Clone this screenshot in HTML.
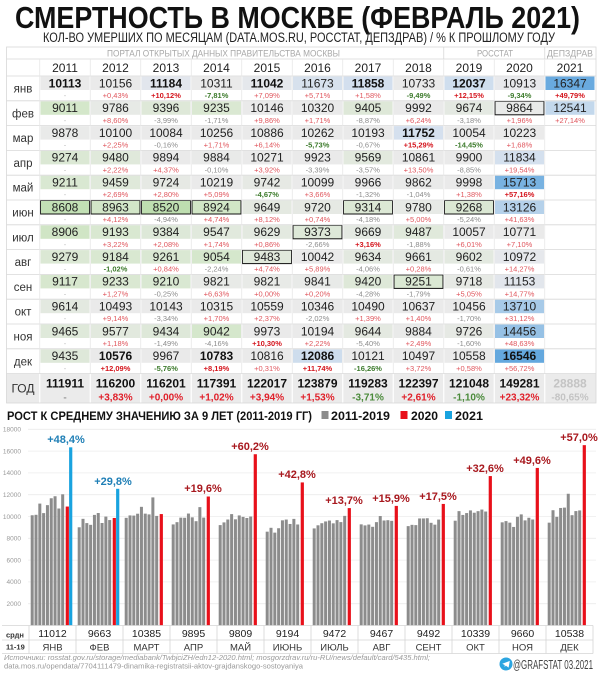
<!DOCTYPE html>
<html><head><meta charset="utf-8">
<style>
html,body{margin:0;padding:0;background:#fff;width:600px;height:674px;overflow:hidden}
svg{display:block}
text{font-family:"Liberation Sans","DejaVu Sans",sans-serif}
.v{font-size:12px;fill:#222;text-anchor:middle}
.b{font-weight:bold;fill:#111}
.p{font-size:7.5px;text-anchor:middle}
.r{fill:#e0575e}
.R{fill:#d4141c;font-weight:bold}
.g{fill:#8c8c8c}
.G{fill:#3d7b2c;font-weight:bold}
.d{fill:#bbb}
.m{font-size:11.5px;fill:#333;text-anchor:middle}
.y{font-size:12px;fill:#222;text-anchor:middle}
.ax{font-size:6.5px;fill:#999;text-anchor:end}
.lb{font-size:11px;font-weight:bold;text-anchor:middle}
.lr{fill:#a8181e}
.lbl{fill:#1f7fb6}
.av{font-size:10.5px;fill:#222;text-anchor:middle}
.mn{font-size:9.5px;fill:#333;text-anchor:middle}
.gp{font-size:10px;font-weight:bold;text-anchor:middle}
</style></head><body>
<svg width="600" height="674" viewBox="0 0 600 674" xmlns="http://www.w3.org/2000/svg">
<rect width="600" height="674" fill="#fff"/>
<text x="15" y="28" font-size="31" font-weight="bold" fill="#111" textLength="565" lengthAdjust="spacingAndGlyphs">СМЕРТНОСТЬ В МОСКВЕ (ФЕВРАЛЬ 2021)</text>
<text x="43" y="42" font-size="13.5" fill="#222" textLength="512" lengthAdjust="spacingAndGlyphs">КОЛ-ВО УМЕРШИХ ПО МЕСЯЦАМ (DATA.MOS.RU, РОССТАТ, ДЕПЗДРАВ) / % К ПРОШЛОМУ ГОДУ</text>

<!-- table header -->
<text x="107" y="56.5" font-size="9" fill="#a8a8a8" textLength="233" lengthAdjust="spacingAndGlyphs">ПОРТАЛ ОТКРЫТЫХ ДАННЫХ ПРАВИТЕЛЬСТВА МОСКВЫ</text>
<text x="477" y="56.5" font-size="9" fill="#a8a8a8" textLength="36" lengthAdjust="spacingAndGlyphs">РОССТАТ</text>
<text x="547" y="56.5" font-size="9" fill="#a8a8a8" textLength="46" lengthAdjust="spacingAndGlyphs">ДЕПЗДРАВ</text>
<g>
<text class="y" x="65" y="72">2011</text><text class="y" x="115.5" y="72">2012</text><text class="y" x="166" y="72">2013</text><text class="y" x="216.5" y="72">2014</text><text class="y" x="267" y="72">2015</text><text class="y" x="317.5" y="72">2016</text><text class="y" x="368" y="72">2017</text><text class="y" x="418.5" y="72">2018</text><text class="y" x="469" y="72">2019</text><text class="y" x="519.5" y="72">2020</text><text class="y" x="570" y="72">2021</text>
</g>

<!-- янв -->
<g transform="translate(0,76)">
<rect x="40.5" y="0.5" width="49" height="13.5" fill="#eaeaea"/><rect x="91" y="0.5" width="49" height="13.5" fill="#eaeaea"/><rect x="141.5" y="0.5" width="49" height="13.5" fill="#e2e6ed"/><rect x="192" y="0.5" width="49" height="13.5" fill="#eaeaea"/><rect x="242.5" y="0.5" width="49" height="13.5" fill="#e5e8ec"/><rect x="293" y="0.5" width="49" height="13.5" fill="#d7e1ed"/><rect x="343.5" y="0.5" width="49" height="13.5" fill="#d3dfee"/><rect x="394" y="0.5" width="49" height="13.5" fill="#eaeaea"/><rect x="444.5" y="0.5" width="49" height="13.5" fill="#cfdeee"/><rect x="495" y="0.5" width="49" height="13.5" fill="#e8e9ec"/><rect x="545.5" y="0.5" width="49" height="13.5" fill="#69aadf"/>
<text class="m" x="23" y="16.5">янв</text>
<text class="v b" x="65" y="11.3">10113</text><text class="v" x="115.5" y="11.3">10156</text><text class="v b" x="166" y="11.3">11184</text><text class="v" x="216.5" y="11.3">10311</text><text class="v b" x="267" y="11.3">11042</text><text class="v" x="317.5" y="11.3">11673</text><text class="v b" x="368" y="11.3">11858</text><text class="v" x="418.5" y="11.3">10733</text><text class="v b" x="469" y="11.3">12037</text><text class="v" x="519.5" y="11.3">10913</text><text class="v" x="570" y="11.3">16347</text>
<text class="p d" x="65" y="22">-</text><text class="p r" x="115.5" y="22">+0,43%</text><text class="p R" x="166" y="22">+10,12%</text><text class="p G" x="216.5" y="22">-7,81%</text><text class="p r" x="267" y="22">+7,09%</text><text class="p r" x="317.5" y="22">+5,71%</text><text class="p r" x="368" y="22">+1,58%</text><text class="p G" x="418.5" y="22">-9,49%</text><text class="p R" x="469" y="22">+12,15%</text><text class="p G" x="519.5" y="22">-9,34%</text><text class="p R" x="570" y="22">+49,79%</text>
</g>

<!-- фев -->
<g transform="translate(0,100.8)">
<rect x="40.5" y="0.5" width="49" height="13.5" fill="#d4e7ca"/><rect x="91" y="0.5" width="49" height="13.5" fill="#e7eae6"/><rect x="141.5" y="0.5" width="49" height="13.5" fill="#dee8d8"/><rect x="192" y="0.5" width="49" height="13.5" fill="#dae8d2"/><rect x="242.5" y="0.5" width="49" height="13.5" fill="#eaeaea"/><rect x="293" y="0.5" width="49" height="13.5" fill="#eaeaea"/><rect x="343.5" y="0.5" width="49" height="13.5" fill="#dee8d8"/><rect x="394" y="0.5" width="49" height="13.5" fill="#eaeaea"/><rect x="444.5" y="0.5" width="49" height="13.5" fill="#e4e9e2"/><rect x="495" y="0.5" width="49" height="13.5" fill="#e9eae9" stroke="#111" stroke-width="1"/><rect x="545.5" y="0.5" width="49" height="13.5" fill="#c3d8ec"/>
<text class="m" x="23" y="16.5">фев</text>
<text class="v" x="65" y="11.3">9011</text><text class="v" x="115.5" y="11.3">9786</text><text class="v" x="166" y="11.3">9396</text><text class="v" x="216.5" y="11.3">9235</text><text class="v" x="267" y="11.3">10146</text><text class="v" x="317.5" y="11.3">10320</text><text class="v" x="368" y="11.3">9405</text><text class="v" x="418.5" y="11.3">9992</text><text class="v" x="469" y="11.3">9674</text><text class="v" x="519.5" y="11.3">9864</text><text class="v" x="570" y="11.3">12541</text>
<text class="p d" x="65" y="22">-</text><text class="p r" x="115.5" y="22">+8,60%</text><text class="p g" x="166" y="22">-3,99%</text><text class="p g" x="216.5" y="22">-1,71%</text><text class="p r" x="267" y="22">+9,86%</text><text class="p r" x="317.5" y="22">+1,71%</text><text class="p g" x="368" y="22">-8,87%</text><text class="p r" x="418.5" y="22">+6,24%</text><text class="p g" x="469" y="22">-3,18%</text><text class="p r" x="519.5" y="22">+1,96%</text><text class="p r" x="570" y="22">+27,14%</text>
</g>

<!-- мар -->
<g transform="translate(0,125.6)">
<rect x="40.5" y="0.5" width="49" height="13.5" fill="#e9eae9"/><rect x="91" y="0.5" width="49" height="13.5" fill="#eaeaea"/><rect x="141.5" y="0.5" width="49" height="13.5" fill="#eaeaea"/><rect x="192" y="0.5" width="49" height="13.5" fill="#eaeaea"/><rect x="242.5" y="0.5" width="49" height="13.5" fill="#eaeaea"/><rect x="293" y="0.5" width="49" height="13.5" fill="#eaeaea"/><rect x="343.5" y="0.5" width="49" height="13.5" fill="#eaeaea"/><rect x="394" y="0.5" width="49" height="13.5" fill="#d5e0ee"/><rect x="444.5" y="0.5" width="49" height="13.5" fill="#eaeaea"/><rect x="495" y="0.5" width="49" height="13.5" fill="#eaeaea"/>
<text class="m" x="23" y="16.5">мар</text>
<text class="v" x="65" y="11.3">9878</text><text class="v" x="115.5" y="11.3">10100</text><text class="v" x="166" y="11.3">10084</text><text class="v" x="216.5" y="11.3">10256</text><text class="v" x="267" y="11.3">10886</text><text class="v" x="317.5" y="11.3">10262</text><text class="v" x="368" y="11.3">10193</text><text class="v b" x="418.5" y="11.3">11752</text><text class="v" x="469" y="11.3">10054</text><text class="v" x="519.5" y="11.3">10223</text>
<text class="p d" x="65" y="22">-</text><text class="p r" x="115.5" y="22">+2,25%</text><text class="p g" x="166" y="22">-0,16%</text><text class="p r" x="216.5" y="22">+1,71%</text><text class="p r" x="267" y="22">+6,14%</text><text class="p G" x="317.5" y="22">-5,73%</text><text class="p g" x="368" y="22">-0,67%</text><text class="p R" x="418.5" y="22">+15,29%</text><text class="p G" x="469" y="22">-14,45%</text><text class="p r" x="519.5" y="22">+1,68%</text>
</g>

<!-- апр -->
<g transform="translate(0,150.4)">
<rect x="40.5" y="0.5" width="49" height="13.5" fill="#dbe8d4"/><rect x="91" y="0.5" width="49" height="13.5" fill="#e0e9db"/><rect x="141.5" y="0.5" width="49" height="13.5" fill="#eaeaea"/><rect x="192" y="0.5" width="49" height="13.5" fill="#e9eae9"/><rect x="242.5" y="0.5" width="49" height="13.5" fill="#eaeaea"/><rect x="293" y="0.5" width="49" height="13.5" fill="#eaeaea"/><rect x="343.5" y="0.5" width="49" height="13.5" fill="#e2e9de"/><rect x="394" y="0.5" width="49" height="13.5" fill="#eaeaea"/><rect x="444.5" y="0.5" width="49" height="13.5" fill="#eaeaea"/><rect x="495" y="0.5" width="49" height="13.5" fill="#d4e0ee"/>
<text class="m" x="23" y="16.5">апр</text>
<text class="v" x="65" y="11.3">9274</text><text class="v" x="115.5" y="11.3">9480</text><text class="v" x="166" y="11.3">9894</text><text class="v" x="216.5" y="11.3">9884</text><text class="v" x="267" y="11.3">10271</text><text class="v" x="317.5" y="11.3">9923</text><text class="v" x="368" y="11.3">9569</text><text class="v" x="418.5" y="11.3">10861</text><text class="v" x="469" y="11.3">9900</text><text class="v" x="519.5" y="11.3">11834</text>
<text class="p d" x="65" y="22">-</text><text class="p r" x="115.5" y="22">+2,22%</text><text class="p r" x="166" y="22">+4,37%</text><text class="p g" x="216.5" y="22">-0,10%</text><text class="p r" x="267" y="22">+3,92%</text><text class="p g" x="317.5" y="22">-3,39%</text><text class="p g" x="368" y="22">-3,57%</text><text class="p r" x="418.5" y="22">+13,50%</text><text class="p g" x="469" y="22">-8,85%</text><text class="p r" x="519.5" y="22">+19,54%</text>
</g>

<!-- май -->
<g transform="translate(0,175.2)">
<rect x="40.5" y="0.5" width="49" height="13.5" fill="#d9e8d2"/><rect x="91" y="0.5" width="49" height="13.5" fill="#dfe9da"/><rect x="141.5" y="0.5" width="49" height="13.5" fill="#e6e9e4"/><rect x="192" y="0.5" width="49" height="13.5" fill="#eaeaea"/><rect x="242.5" y="0.5" width="49" height="13.5" fill="#e6e9e4"/><rect x="293" y="0.5" width="49" height="13.5" fill="#eaeaea"/><rect x="343.5" y="0.5" width="49" height="13.5" fill="#eaeaea"/><rect x="394" y="0.5" width="49" height="13.5" fill="#e9eae9"/><rect x="444.5" y="0.5" width="49" height="13.5" fill="#eaeaea"/><rect x="495" y="0.5" width="49" height="13.5" fill="#78b2e1"/>
<text class="m" x="23" y="16.5">май</text>
<text class="v" x="65" y="11.3">9211</text><text class="v" x="115.5" y="11.3">9459</text><text class="v" x="166" y="11.3">9724</text><text class="v" x="216.5" y="11.3">10219</text><text class="v" x="267" y="11.3">9742</text><text class="v" x="317.5" y="11.3">10099</text><text class="v" x="368" y="11.3">9966</text><text class="v" x="418.5" y="11.3">9862</text><text class="v" x="469" y="11.3">9998</text><text class="v" x="519.5" y="11.3">15713</text>
<text class="p d" x="65" y="22">-</text><text class="p r" x="115.5" y="22">+2,69%</text><text class="p r" x="166" y="22">+2,80%</text><text class="p r" x="216.5" y="22">+5,09%</text><text class="p G" x="267" y="22">-4,67%</text><text class="p r" x="317.5" y="22">+3,66%</text><text class="p g" x="368" y="22">-1,32%</text><text class="p g" x="418.5" y="22">-1,04%</text><text class="p r" x="469" y="22">+1,38%</text><text class="p R" x="519.5" y="22">+57,16%</text>
</g>

<!-- июн -->
<g transform="translate(0,200)">
<rect x="40.5" y="0.5" width="49" height="13.5" fill="#c2e0b5" stroke="#111"/><rect x="91" y="0.5" width="49" height="13.5" fill="#d2e6c8" stroke="#111"/><rect x="141.5" y="0.5" width="49" height="13.5" fill="#bedeb0" stroke="#111"/><rect x="192" y="0.5" width="49" height="13.5" fill="#d1e6c6" stroke="#111"/><rect x="242.5" y="0.5" width="49" height="13.5" fill="#e4e9e1"/><rect x="293" y="0.5" width="49" height="13.5" fill="#e6e9e4"/><rect x="343.5" y="0.5" width="49" height="13.5" fill="#dce8d5" stroke="#111"/><rect x="394" y="0.5" width="49" height="13.5" fill="#e7eae6"/><rect x="444.5" y="0.5" width="49" height="13.5" fill="#dbe8d4" stroke="#111"/><rect x="495" y="0.5" width="49" height="13.5" fill="#b5d1ea"/>
<text class="m" x="23" y="16.5">июн</text>
<text class="v" x="65" y="11.3">8608</text><text class="v" x="115.5" y="11.3">8963</text><text class="v" x="166" y="11.3">8520</text><text class="v" x="216.5" y="11.3">8924</text><text class="v" x="267" y="11.3">9649</text><text class="v" x="317.5" y="11.3">9720</text><text class="v" x="368" y="11.3">9314</text><text class="v" x="418.5" y="11.3">9780</text><text class="v" x="469" y="11.3">9268</text><text class="v" x="519.5" y="11.3">13126</text>
<text class="p d" x="65" y="22">-</text><text class="p r" x="115.5" y="22">+4,12%</text><text class="p g" x="166" y="22">-4,94%</text><text class="p r" x="216.5" y="22">+4,74%</text><text class="p r" x="267" y="22">+8,12%</text><text class="p r" x="317.5" y="22">+0,74%</text><text class="p g" x="368" y="22">-4,18%</text><text class="p r" x="418.5" y="22">+5,00%</text><text class="p g" x="469" y="22">-5,24%</text><text class="p r" x="519.5" y="22">+41,63%</text>
</g>

<!-- июл -->
<g transform="translate(0,224.8)">
<rect x="40.5" y="0.5" width="49" height="13.5" fill="#d0e5c5"/><rect x="91" y="0.5" width="49" height="13.5" fill="#d9e8d1"/><rect x="141.5" y="0.5" width="49" height="13.5" fill="#dde8d8"/><rect x="192" y="0.5" width="49" height="13.5" fill="#e1e9dd"/><rect x="242.5" y="0.5" width="49" height="13.5" fill="#e3e9e0"/><rect x="293" y="0.5" width="49" height="13.5" fill="#dde8d8" stroke="#111"/><rect x="343.5" y="0.5" width="49" height="13.5" fill="#e4e9e2"/><rect x="394" y="0.5" width="49" height="13.5" fill="#e0e9db"/><rect x="444.5" y="0.5" width="49" height="13.5" fill="#eaeaea"/><rect x="495" y="0.5" width="49" height="13.5" fill="#eaeaea"/>
<text class="m" x="23" y="16.5">июл</text>
<text class="v" x="65" y="11.3">8906</text><text class="v" x="115.5" y="11.3">9193</text><text class="v" x="166" y="11.3">9384</text><text class="v" x="216.5" y="11.3">9547</text><text class="v" x="267" y="11.3">9629</text><text class="v" x="317.5" y="11.3">9373</text><text class="v" x="368" y="11.3">9669</text><text class="v" x="418.5" y="11.3">9487</text><text class="v" x="469" y="11.3">10057</text><text class="v" x="519.5" y="11.3">10771</text>
<text class="p d" x="65" y="22">-</text><text class="p r" x="115.5" y="22">+3,22%</text><text class="p r" x="166" y="22">+2,08%</text><text class="p r" x="216.5" y="22">+1,74%</text><text class="p r" x="267" y="22">+0,86%</text><text class="p g" x="317.5" y="22">-2,66%</text><text class="p R" x="368" y="22">+3,16%</text><text class="p g" x="418.5" y="22">-1,88%</text><text class="p r" x="469" y="22">+6,01%</text><text class="p r" x="519.5" y="22">+7,10%</text>
</g>

<!-- авг -->
<g transform="translate(0,249.6)">
<rect x="40.5" y="0.5" width="49" height="13.5" fill="#dbe8d4"/><rect x="91" y="0.5" width="49" height="13.5" fill="#d9e8d1"/><rect x="141.5" y="0.5" width="49" height="13.5" fill="#dae8d3"/><rect x="192" y="0.5" width="49" height="13.5" fill="#d5e7cc"/><rect x="242.5" y="0.5" width="49" height="13.5" fill="#e0e9db" stroke="#111"/><rect x="293" y="0.5" width="49" height="13.5" fill="#eaeaea"/><rect x="343.5" y="0.5" width="49" height="13.5" fill="#e3e9e0"/><rect x="394" y="0.5" width="49" height="13.5" fill="#e4e9e2"/><rect x="444.5" y="0.5" width="49" height="13.5" fill="#e3e9e0"/><rect x="495" y="0.5" width="49" height="13.5" fill="#e6e8ec"/>
<text class="m" x="23" y="16.5">авг</text>
<text class="v" x="65" y="11.3">9279</text><text class="v" x="115.5" y="11.3">9184</text><text class="v" x="166" y="11.3">9261</text><text class="v" x="216.5" y="11.3">9054</text><text class="v" x="267" y="11.3">9483</text><text class="v" x="317.5" y="11.3">10042</text><text class="v" x="368" y="11.3">9634</text><text class="v" x="418.5" y="11.3">9661</text><text class="v" x="469" y="11.3">9602</text><text class="v" x="519.5" y="11.3">10972</text>
<text class="p d" x="65" y="22">-</text><text class="p G" x="115.5" y="22">-1,02%</text><text class="p r" x="166" y="22">+0,84%</text><text class="p g" x="216.5" y="22">-2,24%</text><text class="p r" x="267" y="22">+4,74%</text><text class="p r" x="317.5" y="22">+5,89%</text><text class="p g" x="368" y="22">-4,06%</text><text class="p r" x="418.5" y="22">+0,28%</text><text class="p g" x="469" y="22">-0,61%</text><text class="p r" x="519.5" y="22">+14,27%</text>
</g>

<!-- сен -->
<g transform="translate(0,274.4)">
<rect x="40.5" y="0.5" width="49" height="13.5" fill="#d7e7ce"/><rect x="91" y="0.5" width="49" height="13.5" fill="#dae8d2"/><rect x="141.5" y="0.5" width="49" height="13.5" fill="#d9e8d2"/><rect x="192" y="0.5" width="49" height="13.5" fill="#e8eae7"/><rect x="242.5" y="0.5" width="49" height="13.5" fill="#e8eae7"/><rect x="293" y="0.5" width="49" height="13.5" fill="#e8eae8"/><rect x="343.5" y="0.5" width="49" height="13.5" fill="#dee8d8"/><rect x="394" y="0.5" width="49" height="13.5" fill="#dae8d3" stroke="#111"/><rect x="444.5" y="0.5" width="49" height="13.5" fill="#e6e9e4"/><rect x="495" y="0.5" width="49" height="13.5" fill="#e2e6ec"/>
<text class="m" x="23" y="16.5">сен</text>
<text class="v" x="65" y="11.3">9117</text><text class="v" x="115.5" y="11.3">9233</text><text class="v" x="166" y="11.3">9210</text><text class="v" x="216.5" y="11.3">9821</text><text class="v" x="267" y="11.3">9821</text><text class="v" x="317.5" y="11.3">9841</text><text class="v" x="368" y="11.3">9420</text><text class="v" x="418.5" y="11.3">9251</text><text class="v" x="469" y="11.3">9718</text><text class="v" x="519.5" y="11.3">11153</text>
<text class="p d" x="65" y="22">-</text><text class="p r" x="115.5" y="22">+1,27%</text><text class="p g" x="166" y="22">-0,25%</text><text class="p r" x="216.5" y="22">+6,63%</text><text class="p r" x="267" y="22">+0,00%</text><text class="p r" x="317.5" y="22">+0,20%</text><text class="p g" x="368" y="22">-4,28%</text><text class="p g" x="418.5" y="22">-1,79%</text><text class="p r" x="469" y="22">+5,05%</text><text class="p r" x="519.5" y="22">+14,77%</text>
</g>

<!-- окт -->
<g transform="translate(0,299.2)">
<rect x="40.5" y="0.5" width="49" height="13.5" fill="#e3e9e0"/><rect x="91" y="0.5" width="49" height="13.5" fill="#eaeaea"/><rect x="141.5" y="0.5" width="49" height="13.5" fill="#eaeaea"/><rect x="192" y="0.5" width="49" height="13.5" fill="#eaeaea"/><rect x="242.5" y="0.5" width="49" height="13.5" fill="#eaeaea"/><rect x="293" y="0.5" width="49" height="13.5" fill="#eaeaea"/><rect x="343.5" y="0.5" width="49" height="13.5" fill="#eaeaea"/><rect x="394" y="0.5" width="49" height="13.5" fill="#eaeaea"/><rect x="444.5" y="0.5" width="49" height="13.5" fill="#eaeaea"/><rect x="495" y="0.5" width="49" height="13.5" fill="#a7cae8"/>
<text class="m" x="23" y="16.5">окт</text>
<text class="v" x="65" y="11.3">9614</text><text class="v" x="115.5" y="11.3">10493</text><text class="v" x="166" y="11.3">10143</text><text class="v" x="216.5" y="11.3">10315</text><text class="v" x="267" y="11.3">10559</text><text class="v" x="317.5" y="11.3">10346</text><text class="v" x="368" y="11.3">10490</text><text class="v" x="418.5" y="11.3">10637</text><text class="v" x="469" y="11.3">10456</text><text class="v" x="519.5" y="11.3">13710</text>
<text class="p d" x="65" y="22">-</text><text class="p r" x="115.5" y="22">+9,14%</text><text class="p g" x="166" y="22">-3,34%</text><text class="p r" x="216.5" y="22">+1,70%</text><text class="p r" x="267" y="22">+2,37%</text><text class="p g" x="317.5" y="22">-2,02%</text><text class="p r" x="368" y="22">+1,39%</text><text class="p r" x="418.5" y="22">+1,40%</text><text class="p g" x="469" y="22">-1,70%</text><text class="p r" x="519.5" y="22">+31,12%</text>
</g>

<!-- ноя -->
<g transform="translate(0,324)">
<rect x="40.5" y="0.5" width="49" height="13.5" fill="#dfe9da"/><rect x="91" y="0.5" width="49" height="13.5" fill="#e2e9de"/><rect x="141.5" y="0.5" width="49" height="13.5" fill="#dee8d9"/><rect x="192" y="0.5" width="49" height="13.5" fill="#d5e7cc"/><rect x="242.5" y="0.5" width="49" height="13.5" fill="#eaeaea"/><rect x="293" y="0.5" width="49" height="13.5" fill="#eaeaea"/><rect x="343.5" y="0.5" width="49" height="13.5" fill="#e4e9e1"/><rect x="394" y="0.5" width="49" height="13.5" fill="#e9eae9"/><rect x="444.5" y="0.5" width="49" height="13.5" fill="#e6e9e4"/><rect x="495" y="0.5" width="49" height="13.5" fill="#96c1e5"/>
<text class="m" x="23" y="16.5">ноя</text>
<text class="v" x="65" y="11.3">9465</text><text class="v" x="115.5" y="11.3">9577</text><text class="v" x="166" y="11.3">9434</text><text class="v" x="216.5" y="11.3">9042</text><text class="v" x="267" y="11.3">9973</text><text class="v" x="317.5" y="11.3">10194</text><text class="v" x="368" y="11.3">9644</text><text class="v" x="418.5" y="11.3">9884</text><text class="v" x="469" y="11.3">9726</text><text class="v" x="519.5" y="11.3">14456</text>
<text class="p d" x="65" y="22">-</text><text class="p r" x="115.5" y="22">+1,18%</text><text class="p g" x="166" y="22">-1,49%</text><text class="p g" x="216.5" y="22">-4,16%</text><text class="p R" x="267" y="22">+10,30%</text><text class="p r" x="317.5" y="22">+2,22%</text><text class="p g" x="368" y="22">-5,40%</text><text class="p r" x="418.5" y="22">+2,49%</text><text class="p g" x="469" y="22">-1,60%</text><text class="p r" x="519.5" y="22">+48,63%</text>
</g>

<!-- дек -->
<g transform="translate(0,348.8)">
<rect x="40.5" y="0.5" width="49" height="13.5" fill="#dee8d9"/><rect x="91" y="0.5" width="49" height="13.5" fill="#eaeaea"/><rect x="141.5" y="0.5" width="49" height="13.5" fill="#eaeaea"/><rect x="192" y="0.5" width="49" height="13.5" fill="#eaeaea"/><rect x="242.5" y="0.5" width="49" height="13.5" fill="#eaeaea"/><rect x="293" y="0.5" width="49" height="13.5" fill="#cedded"/><rect x="343.5" y="0.5" width="49" height="13.5" fill="#eaeaea"/><rect x="394" y="0.5" width="49" height="13.5" fill="#eaeaea"/><rect x="444.5" y="0.5" width="49" height="13.5" fill="#eaeaea"/><rect x="495" y="0.5" width="49" height="13.5" fill="#64a8de"/>
<text class="m" x="23" y="16.5">дек</text>
<text class="v" x="65" y="11.3">9435</text><text class="v b" x="115.5" y="11.3">10576</text><text class="v" x="166" y="11.3">9967</text><text class="v b" x="216.5" y="11.3">10783</text><text class="v" x="267" y="11.3">10816</text><text class="v b" x="317.5" y="11.3">12086</text><text class="v" x="368" y="11.3">10121</text><text class="v" x="418.5" y="11.3">10497</text><text class="v" x="469" y="11.3">10558</text><text class="v b" x="519.5" y="11.3">16546</text>
<text class="p d" x="65" y="22">-</text><text class="p R" x="115.5" y="22">+12,09%</text><text class="p G" x="166" y="22">-5,76%</text><text class="p R" x="216.5" y="22">+8,19%</text><text class="p r" x="267" y="22">+0,31%</text><text class="p R" x="317.5" y="22">+11,74%</text><text class="p G" x="368" y="22">-16,26%</text><text class="p r" x="418.5" y="22">+3,72%</text><text class="p r" x="469" y="22">+0,58%</text><text class="p r" x="519.5" y="22">+56,72%</text>
</g>

<!-- ГОД -->
<g transform="translate(0,373.6)">
<rect x="6.5" y="0" width="589.5" height="29.4" fill="#ebebeb"/>
<g stroke="#fff" stroke-width="1.2">
<line x1="39.75" y1="0" x2="39.75" y2="29.4"/><line x1="90.25" y1="0" x2="90.25" y2="29.4"/><line x1="140.75" y1="0" x2="140.75" y2="29.4"/><line x1="191.25" y1="0" x2="191.25" y2="29.4"/><line x1="241.75" y1="0" x2="241.75" y2="29.4"/><line x1="292.25" y1="0" x2="292.25" y2="29.4"/><line x1="342.75" y1="0" x2="342.75" y2="29.4"/><line x1="393.25" y1="0" x2="393.25" y2="29.4"/><line x1="443.75" y1="0" x2="443.75" y2="29.4"/><line x1="494.25" y1="0" x2="494.25" y2="29.4"/><line x1="544.75" y1="0" x2="544.75" y2="29.4"/>
</g>
<text class="m" x="23" y="19" style="font-size:12px">ГОД</text>
<text class="v b" x="65" y="13.7">111911</text><text class="v b" x="115.5" y="13.7">116200</text><text class="v b" x="166" y="13.7">116201</text><text class="v b" x="216.5" y="13.7">117391</text><text class="v b" x="267" y="13.7">122017</text><text class="v b" x="317.5" y="13.7">123879</text><text class="v b" x="368" y="13.7">119283</text><text class="v b" x="418.5" y="13.7">122397</text><text class="v b" x="469" y="13.7">121048</text><text class="v b" x="519.5" y="13.7">149281</text><text class="v b" x="570" y="13.7" style="fill:#c4c4c4">28888</text>
<text class="gp" x="65" y="26.9" fill="#999">-</text><text class="gp" x="115.5" y="26.9" fill="#e0202a">+3,83%</text><text class="gp" x="166" y="26.9" fill="#e0202a">+0,00%</text><text class="gp" x="216.5" y="26.9" fill="#e0202a">+1,02%</text><text class="gp" x="267" y="26.9" fill="#e0202a">+3,94%</text><text class="gp" x="317.5" y="26.9" fill="#e0202a">+1,53%</text><text class="gp" x="368" y="26.9" fill="#4a8a3a" font-weight="normal">-3,71%</text><text class="gp" x="418.5" y="26.9" fill="#e0202a">+2,61%</text><text class="gp" x="469" y="26.9" fill="#4a8a3a" font-weight="normal">-1,10%</text><text class="gp" x="519.5" y="26.9" fill="#e0202a">+23,32%</text><text class="gp" x="570" y="26.9" fill="#c4c4c4" font-weight="normal">-80,65%</text>
</g>

<!-- table grid lines -->
<g stroke="#d8d8d8" stroke-width="0.8" fill="none">
<rect x="6.5" y="47" width="589.5" height="356"/>
<line x1="6.5" y1="59" x2="596" y2="59"/><line x1="6.5" y1="76" x2="596" y2="76"/><line x1="6.5" y1="100.8" x2="596" y2="100.8"/><line x1="6.5" y1="125.6" x2="596" y2="125.6"/><line x1="6.5" y1="150.4" x2="596" y2="150.4"/><line x1="6.5" y1="175.2" x2="596" y2="175.2"/><line x1="6.5" y1="200" x2="596" y2="200"/><line x1="6.5" y1="224.8" x2="596" y2="224.8"/><line x1="6.5" y1="249.6" x2="596" y2="249.6"/><line x1="6.5" y1="274.4" x2="596" y2="274.4"/><line x1="6.5" y1="299.2" x2="596" y2="299.2"/><line x1="6.5" y1="324" x2="596" y2="324"/><line x1="6.5" y1="348.8" x2="596" y2="348.8"/><line x1="6.5" y1="373.6" x2="596" y2="373.6"/>
<line x1="443.75" y1="47" x2="443.75" y2="59"/><line x1="544.75" y1="47" x2="544.75" y2="59"/>
</g>
<g stroke="#e6e6e6" stroke-width="0.8">
<line x1="39.75" y1="59" x2="39.75" y2="373.6"/><line x1="90.25" y1="59" x2="90.25" y2="373.6"/><line x1="140.75" y1="59" x2="140.75" y2="373.6"/><line x1="191.25" y1="59" x2="191.25" y2="373.6"/><line x1="241.75" y1="59" x2="241.75" y2="373.6"/><line x1="292.25" y1="59" x2="292.25" y2="373.6"/><line x1="342.75" y1="59" x2="342.75" y2="373.6"/><line x1="393.25" y1="59" x2="393.25" y2="373.6"/><line x1="443.75" y1="59" x2="443.75" y2="373.6"/><line x1="494.25" y1="59" x2="494.25" y2="373.6"/><line x1="544.75" y1="59" x2="544.75" y2="373.6"/>
</g>

<!-- chart title & legend -->
<text x="7" y="420" font-size="11.5" font-weight="bold" fill="#111" textLength="305" lengthAdjust="spacingAndGlyphs">РОСТ К СРЕДНЕМУ ЗНАЧЕНИЮ ЗА 9 ЛЕТ (2011-2019 ГГ)</text>
<rect x="321.5" y="411" width="7" height="8" fill="#8c8c8c"/>
<text x="331" y="420" font-size="12" font-weight="bold" fill="#111" textLength="59" lengthAdjust="spacingAndGlyphs">2011-2019</text>
<rect x="400.5" y="411" width="7" height="8" fill="#e8101a"/>
<text x="411" y="420" font-size="12" font-weight="bold" fill="#111" textLength="27" lengthAdjust="spacingAndGlyphs">2020</text>
<rect x="445" y="411" width="7" height="8" fill="#19a3df"/>
<text x="455" y="420" font-size="12" font-weight="bold" fill="#111" textLength="28" lengthAdjust="spacingAndGlyphs">2021</text>

<!-- gridlines & axis -->
<g stroke="#ececec" stroke-width="0.8">
<line x1="28" y1="603.7" x2="596" y2="603.7"/><line x1="28" y1="581.9" x2="596" y2="581.9"/><line x1="28" y1="560.1" x2="596" y2="560.1"/><line x1="28" y1="538.3" x2="596" y2="538.3"/><line x1="28" y1="516.5" x2="596" y2="516.5"/><line x1="28" y1="494.7" x2="596" y2="494.7"/><line x1="28" y1="472.9" x2="596" y2="472.9"/><line x1="28" y1="451.1" x2="596" y2="451.1"/><line x1="28" y1="429.3" x2="596" y2="429.3"/>
</g>
<text class="ax" x="21" y="606">2000</text><text class="ax" x="21" y="584.2">4000</text><text class="ax" x="21" y="562.4">6000</text><text class="ax" x="21" y="540.6">8000</text><text class="ax" x="21" y="518.8">10000</text><text class="ax" x="21" y="497">12000</text><text class="ax" x="21" y="475.2">14000</text><text class="ax" x="21" y="453.4">16000</text><text class="ax" x="21" y="431.6">18000</text>

<!-- bars -->
<g fill="#8c8c8c">
<g transform="translate(30.7,625.5) scale(1,-0.0109)">
<rect x="0" width="3" height="10113"/><rect x="3.81" width="3" height="10156"/><rect x="7.62" width="3" height="11184"/><rect x="11.43" width="3" height="10311"/><rect x="15.24" width="3" height="11042"/><rect x="19.05" width="3" height="11673"/><rect x="22.86" width="3" height="11858"/><rect x="26.67" width="3" height="10733"/><rect x="30.48" width="3" height="12037"/><rect x="35" width="3.2" height="10913" fill="#e8101a"/><rect x="38.4" width="3.2" height="16347" fill="#19a3df"/>
</g>
<g transform="translate(77.7,625.5) scale(1,-0.0109)">
<rect x="0" width="3" height="9011"/><rect x="3.81" width="3" height="9786"/><rect x="7.62" width="3" height="9396"/><rect x="11.43" width="3" height="9235"/><rect x="15.24" width="3" height="10146"/><rect x="19.05" width="3" height="10320"/><rect x="22.86" width="3" height="9405"/><rect x="26.67" width="3" height="9992"/><rect x="30.48" width="3" height="9674"/><rect x="35" width="3.2" height="9864" fill="#e8101a"/><rect x="38.4" width="3.2" height="12541" fill="#19a3df"/>
</g>
<g transform="translate(124.7,625.5) scale(1,-0.0109)">
<rect x="0" width="3" height="9878"/><rect x="3.81" width="3" height="10100"/><rect x="7.62" width="3" height="10084"/><rect x="11.43" width="3" height="10256"/><rect x="15.24" width="3" height="10886"/><rect x="19.05" width="3" height="10262"/><rect x="22.86" width="3" height="10193"/><rect x="26.67" width="3" height="11752"/><rect x="30.48" width="3" height="10054"/><rect x="35" width="3.2" height="10223" fill="#e8101a"/>
</g>
<g transform="translate(171.7,625.5) scale(1,-0.0109)">
<rect x="0" width="3" height="9274"/><rect x="3.81" width="3" height="9480"/><rect x="7.62" width="3" height="9894"/><rect x="11.43" width="3" height="9884"/><rect x="15.24" width="3" height="10271"/><rect x="19.05" width="3" height="9923"/><rect x="22.86" width="3" height="9569"/><rect x="26.67" width="3" height="10861"/><rect x="30.48" width="3" height="9900"/><rect x="35" width="3.2" height="11834" fill="#e8101a"/>
</g>
<g transform="translate(218.7,625.5) scale(1,-0.0109)">
<rect x="0" width="3" height="9211"/><rect x="3.81" width="3" height="9459"/><rect x="7.62" width="3" height="9724"/><rect x="11.43" width="3" height="10219"/><rect x="15.24" width="3" height="9742"/><rect x="19.05" width="3" height="10099"/><rect x="22.86" width="3" height="9966"/><rect x="26.67" width="3" height="9862"/><rect x="30.48" width="3" height="9998"/><rect x="35" width="3.2" height="15713" fill="#e8101a"/>
</g>
<g transform="translate(265.7,625.5) scale(1,-0.0109)">
<rect x="0" width="3" height="8608"/><rect x="3.81" width="3" height="8963"/><rect x="7.62" width="3" height="8520"/><rect x="11.43" width="3" height="8924"/><rect x="15.24" width="3" height="9649"/><rect x="19.05" width="3" height="9720"/><rect x="22.86" width="3" height="9314"/><rect x="26.67" width="3" height="9780"/><rect x="30.48" width="3" height="9268"/><rect x="35" width="3.2" height="13126" fill="#e8101a"/>
</g>
<g transform="translate(312.7,625.5) scale(1,-0.0109)">
<rect x="0" width="3" height="8906"/><rect x="3.81" width="3" height="9193"/><rect x="7.62" width="3" height="9384"/><rect x="11.43" width="3" height="9547"/><rect x="15.24" width="3" height="9629"/><rect x="19.05" width="3" height="9373"/><rect x="22.86" width="3" height="9669"/><rect x="26.67" width="3" height="9487"/><rect x="30.48" width="3" height="10057"/><rect x="35" width="3.2" height="10771" fill="#e8101a"/>
</g>
<g transform="translate(359.7,625.5) scale(1,-0.0109)">
<rect x="0" width="3" height="9279"/><rect x="3.81" width="3" height="9184"/><rect x="7.62" width="3" height="9261"/><rect x="11.43" width="3" height="9054"/><rect x="15.24" width="3" height="9483"/><rect x="19.05" width="3" height="10042"/><rect x="22.86" width="3" height="9634"/><rect x="26.67" width="3" height="9661"/><rect x="30.48" width="3" height="9602"/><rect x="35" width="3.2" height="10972" fill="#e8101a"/>
</g>
<g transform="translate(406.7,625.5) scale(1,-0.0109)">
<rect x="0" width="3" height="9117"/><rect x="3.81" width="3" height="9233"/><rect x="7.62" width="3" height="9210"/><rect x="11.43" width="3" height="9821"/><rect x="15.24" width="3" height="9821"/><rect x="19.05" width="3" height="9841"/><rect x="22.86" width="3" height="9420"/><rect x="26.67" width="3" height="9251"/><rect x="30.48" width="3" height="9718"/><rect x="35" width="3.2" height="11153" fill="#e8101a"/>
</g>
<g transform="translate(453.7,625.5) scale(1,-0.0109)">
<rect x="0" width="3" height="9614"/><rect x="3.81" width="3" height="10493"/><rect x="7.62" width="3" height="10143"/><rect x="11.43" width="3" height="10315"/><rect x="15.24" width="3" height="10559"/><rect x="19.05" width="3" height="10346"/><rect x="22.86" width="3" height="10490"/><rect x="26.67" width="3" height="10637"/><rect x="30.48" width="3" height="10456"/><rect x="35" width="3.2" height="13710" fill="#e8101a"/>
</g>
<g transform="translate(500.7,625.5) scale(1,-0.0109)">
<rect x="0" width="3" height="9465"/><rect x="3.81" width="3" height="9577"/><rect x="7.62" width="3" height="9434"/><rect x="11.43" width="3" height="9042"/><rect x="15.24" width="3" height="9973"/><rect x="19.05" width="3" height="10194"/><rect x="22.86" width="3" height="9644"/><rect x="26.67" width="3" height="9884"/><rect x="30.48" width="3" height="9726"/><rect x="35" width="3.2" height="14456" fill="#e8101a"/>
</g>
<g transform="translate(547.7,625.5) scale(1,-0.0109)">
<rect x="0" width="3" height="9435"/><rect x="3.81" width="3" height="10576"/><rect x="7.62" width="3" height="9967"/><rect x="11.43" width="3" height="10783"/><rect x="15.24" width="3" height="10816"/><rect x="19.05" width="3" height="12086"/><rect x="22.86" width="3" height="10121"/><rect x="26.67" width="3" height="10497"/><rect x="30.48" width="3" height="10558"/><rect x="35" width="3.2" height="16546" fill="#e8101a"/>
</g>
</g>

<!-- bar labels -->
<text class="lb lbl" x="66" y="443">+48,4%</text>
<text class="lb lbl" x="113" y="485">+29,8%</text>
<text class="lb lr" x="203" y="492">+19,6%</text>
<text class="lb lr" x="250" y="450">+60,2%</text>
<text class="lb lr" x="297" y="478">+42,8%</text>
<text class="lb lr" x="344" y="504">+13,7%</text>
<text class="lb lr" x="391" y="502">+15,9%</text>
<text class="lb lr" x="438" y="500">+17,5%</text>
<text class="lb lr" x="485" y="472">+32,6%</text>
<text class="lb lr" x="532" y="464">+49,6%</text>
<text class="lb lr" x="579" y="441">+57,0%</text>

<!-- bottom table -->
<g stroke="#d4d4d4" stroke-width="0.8">
<line x1="2" y1="625.5" x2="593" y2="625.5"/><line x1="2" y1="640" x2="593" y2="640"/><line x1="2" y1="653.5" x2="593" y2="653.5"/>
<line x1="29" y1="625.5" x2="29" y2="653.5"/><line x1="76" y1="625.5" x2="76" y2="653.5"/><line x1="123" y1="625.5" x2="123" y2="653.5"/><line x1="170" y1="625.5" x2="170" y2="653.5"/><line x1="217" y1="625.5" x2="217" y2="653.5"/><line x1="264" y1="625.5" x2="264" y2="653.5"/><line x1="311" y1="625.5" x2="311" y2="653.5"/><line x1="358" y1="625.5" x2="358" y2="653.5"/><line x1="405" y1="625.5" x2="405" y2="653.5"/><line x1="452" y1="625.5" x2="452" y2="653.5"/><line x1="499" y1="625.5" x2="499" y2="653.5"/><line x1="546" y1="625.5" x2="546" y2="653.5"/><line x1="593" y1="625.5" x2="593" y2="653.5"/>
</g>
<text x="6" y="637.5" font-size="7.5" font-weight="bold" fill="#333">срдн</text>
<text x="6" y="649.5" font-size="7.5" font-weight="bold" fill="#333">11-19</text>
<text class="av" x="52.5" y="637">11012</text><text class="av" x="99.5" y="637">9663</text><text class="av" x="146.5" y="637">10385</text><text class="av" x="193.5" y="637">9895</text><text class="av" x="240.5" y="637">9809</text><text class="av" x="287.5" y="637">9194</text><text class="av" x="334.5" y="637">9472</text><text class="av" x="381.5" y="637">9467</text><text class="av" x="428.5" y="637">9492</text><text class="av" x="475.5" y="637">10339</text><text class="av" x="522.5" y="637">9660</text><text class="av" x="569.5" y="637">10538</text>
<text class="mn" x="52.5" y="650.5">ЯНВ</text><text class="mn" x="99.5" y="650.5">ФЕВ</text><text class="mn" x="146.5" y="650.5">МАРТ</text><text class="mn" x="193.5" y="650.5">АПР</text><text class="mn" x="240.5" y="650.5">МАЙ</text><text class="mn" x="287.5" y="650.5">ИЮНЬ</text><text class="mn" x="334.5" y="650.5">ИЮЛЬ</text><text class="mn" x="381.5" y="650.5">АВГ</text><text class="mn" x="428.5" y="650.5">СЕНТ</text><text class="mn" x="475.5" y="650.5">ОКТ</text><text class="mn" x="522.5" y="650.5">НОЯ</text><text class="mn" x="569.5" y="650.5">ДЕК</text>

<!-- sources -->
<text x="4" y="660" font-size="7.5" fill="#999" font-style="italic" textLength="426" lengthAdjust="spacingAndGlyphs">Источники: rosstat.gov.ru/storage/mediabank/TwbjciZH/edn12-2020.html; mosgorzdrav.ru/ru-RU/news/default/card/5435.html;</text>
<text x="4" y="668.5" font-size="7.5" fill="#999" textLength="299" lengthAdjust="spacingAndGlyphs">data.mos.ru/opendata/7704111479-dinamika-registratsii-aktov-grajdanskogo-sostoyaniya</text>

<!-- logo -->
<circle cx="506" cy="664" r="6.5" fill="#2ca5e0"/>
<path d="M502.3 663.8 L509.8 660.9 L508.6 667.6 L505.8 665.6 L504.6 667 L504.7 665 Z" fill="#fff"/>
<text x="513" y="669" font-size="13" fill="#444" textLength="80" lengthAdjust="spacingAndGlyphs">@GRAFSTAT 03.2021</text>
</svg>
</body></html>
